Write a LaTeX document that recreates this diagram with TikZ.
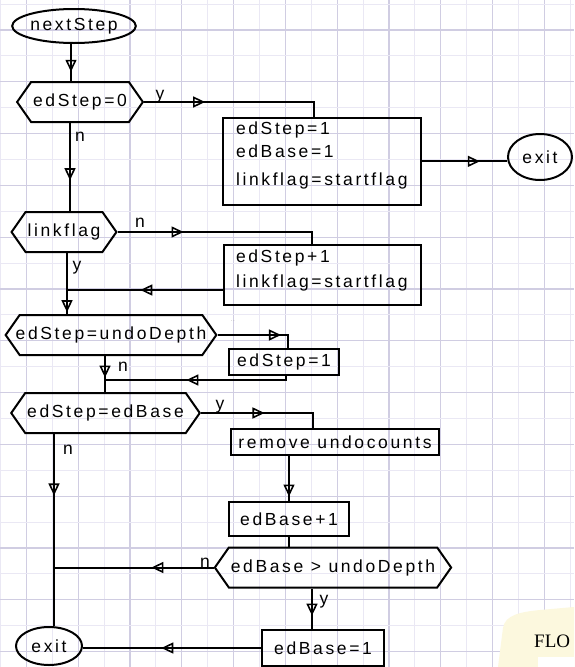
\documentclass[tikz,border=0pt]{standalone}
\usepackage{fontspec}
\setmainfont[LetterSpace=15]{Liberation Sans}
\newfontfamily\notefont{Liberation Serif}
\usetikzlibrary{shapes.geometric,shapes.symbols,arrows.meta,decorations.markings}
\definecolor{gridlight}{RGB}{234,232,244}
\definecolor{griddark}{RGB}{208,205,226}
\definecolor{notecream}{RGB}{252,248,222}

\begin{document}
\begin{tikzpicture}[x=1pt, y=-1pt,
    every node/.style={font=\fontsize{17.5}{21}\selectfont},
    flow/.style={line width=2pt},
    flowtip/.style={postaction={decorate,decoration={markings,
        mark=at position #1 with {\arrow[line width=1.6pt]{Triangle[open,length=12pt,width=11pt]}}}}},
    term/.style={ellipse, draw, line width=2pt, inner sep=0pt},
    test/.style={signal, signal to=east and west, draw, line width=2pt,
        inner xsep=2pt, inner ysep=0pt, minimum height=40pt, signal pointer angle=110},
    act/.style={rectangle, draw, line width=2pt, inner sep=0pt},
    yn/.style={inner sep=0pt}]
    % Paper and grid
    \fill[white] (0,0) rectangle (574,667);
    \useasboundingbox (0,0) rectangle (574,667);
    \foreach \k in {0,...,11} {
        \draw[gridlight, line width=1pt] (0.4+51.8*\k,0) -- (0.4+51.8*\k,667);
        \draw[griddark, line width=1.2pt] (26.3+51.8*\k,0) -- (26.3+51.8*\k,667);
    }
    \foreach \k in {0,...,12} {
        \draw[gridlight, line width=1pt] (0,4.1+51.8*\k) -- (574,4.1+51.8*\k);
        \draw[griddark, line width=1.2pt] (0,30+51.8*\k) -- (574,30+51.8*\k);
    }
    % Note in the corner
    \fill[notecream] (498,667) -- (503,628) .. controls (505,615) and (520,612) .. (540,610)
        -- (574,607) -- (574,667) -- cycle;
    \fill[white] (538,657) rectangle (574,667);
    \node[anchor=base west, inner sep=0pt, font=\notefont\fontsize{19}{23}\selectfont] (note) at (534,647) {FLO};

    % Steps
    \node[term, minimum width=118pt, minimum height=34pt] (start) at (74,26) {nextStep};
    \node[test] (isZero) at (80,102) {edStep=0};
    \node[act, anchor=north west, align=left, text width=172pt, inner xsep=13pt, inner ysep=4pt] (init) at (222,117)
        {edStep=1\\[2pt]edBase=1\\[7pt]linkflag=startflag\rule[-15pt]{0pt}{15pt}};
    \node[term, minimum width=64pt, minimum height=46pt] (exitA) at (540,157) {exit};
    \node[test] (isLink) at (64,232) {linkflag};
    \node[act, anchor=north west, align=left, text width=173pt, inner xsep=12pt, inner ysep=5pt] (bump) at (223,244)
        {edStep+1\\[4pt]linkflag=startflag\rule[-12pt]{0pt}{12pt}};
    \node[test, inner xsep=-4pt] (isDepth) at (111,335) {edStep=undoDepth};
    \node[font=\tiny, text=gray] (dots) at (233,321) {..};
    \node[act, anchor=north west, minimum width=110pt, minimum height=26pt] (wrap) at (228,348) {edStep=1};
    \node[test] (isBase) at (105.5,413) {edStep=edBase};
    \node[act, anchor=north west, minimum width=208pt, minimum height=26pt] (remove) at (230,428) {remove undocounts};
    \node[act, anchor=north west, minimum width=120pt, minimum height=34pt] (incBase) at (228,501) {edBase+1};
    \node[test] (isOver) at (333,567.5) {edBase > undoDepth};
    \node[act, anchor=north west, minimum width=122pt, minimum height=36pt] (resetBase) at (261,629) {edBase=1};
    \node[term, minimum width=66pt, minimum height=38pt] (exitB) at (49,646) {exit};

    % Junctions on the left rails
    \coordinate (joinLink) at (67,290);
    \coordinate (joinDepth) at (105,380);
    \coordinate (leftRail) at (54,0);

    % Connectors
    \draw[flow, flowtip=0.75] (71,0 |- start.south) -- (71,0 |- isZero.north);
    \draw[flow, flowtip=0.33] (isZero.east) -| ([xshift=-8pt]init.north);
    \draw[flow, flowtip=0.68] (init.east) -- (init.east -| exitA.west);
    \draw[flow, flowtip=0.65] (70,0 |- isZero.south) -- (70,0 |- isLink.north);
    \draw[flow, flowtip=0.32] (isLink.east) -| ([xshift=-11pt]bump.north);
    \draw[flow, flowtip=0.53] (bump.west |- joinLink) -- (joinLink);
    \draw[flow, flowtip=0.97] (67,0 |- isLink.south) -- (67,0 |- isDepth.north);
    \draw[flow, flowtip=0.76] (isDepth.east) -| ([xshift=4pt]wrap.north);
    \draw[flow, flowtip=0.56] ([xshift=2pt]wrap.south) |- (joinDepth);
    \draw[flow, flowtip=0.6] (105,0 |- isDepth.south) -- (105,0 |- isBase.north);
    \draw[flow, flowtip=0.5] (isBase.east) -| ([xshift=-22pt]remove.north);
    \draw[flow, flowtip=0.32] (leftRail |- isBase.south) -- (leftRail |- exitB.north);
    \draw[flow, flowtip=0.9] (incBase.north |- remove.south) -- (incBase.north);
    \draw[flow] (incBase.south) -- (incBase.south |- isOver.north);
    \draw[flow, flowtip=0.39] (isOver.west) -- (isOver.west -| leftRail);
    \draw[flow, flowtip=0.67] ([xshift=-21pt]isOver.south) -- ([xshift=-21pt]isOver.south |- resetBase.north);
    \draw[flow, flowtip=0.56] (resetBase.west) -- (resetBase.west -| exitB.east);

    % Branch labels
    \node[yn] (yZero) at (160,97) {y};
    \node[yn] (nZero) at (80,137) {n};
    \node[yn] (nLink) at (140,223) {n};
    \node[yn] (yLink) at (77,268) {y};
    \node[yn] (nDepth) at (123,367) {n};
    \node[yn] (yBase) at (220,407) {y};
    \node[yn] (nBase) at (68,450) {n};
    \node[yn] (nOver) at (205,563) {n};
    \node[yn] (yOver) at (324,602) {y};
\end{tikzpicture}
\end{document}
